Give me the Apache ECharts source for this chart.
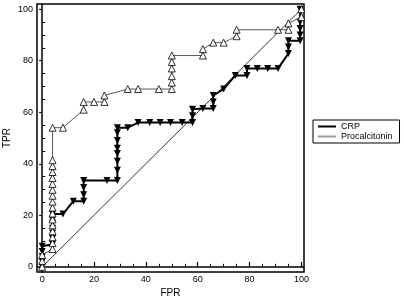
<!DOCTYPE html>
<html>
<head>
<meta charset="utf-8">
<script src="https://cdn.jsdelivr.net/npm/echarts@6/dist/echarts.min.js"></script>
<style>
  html, body { margin: 0; padding: 0; background: #fff; }
  #main { width: 404px; height: 300px; }
</style>
</head>
<body>
<div id="main"></div>
<script>
// ROC 数据
const crpFpr = [0, 0, 0, 0, 0, 4, 4, 4, 4, 4, 4, 4, 8, 12, 16, 16, 16, 16, 25, 29, 29, 29, 29, 29, 29, 29, 29, 33, 37, 41.5, 45.5, 49.5, 54, 58, 58, 58, 62, 66, 66, 66, 70, 74.5, 79, 79, 83, 87, 91, 95, 95, 95, 99.5, 99.5, 99.5, 99.5, 99.5];
const crpTpr = [0, 2, 4, 6, 8, 8.8, 11, 13, 15, 17, 18.5, 20.5, 20.5, 25.5, 25.5, 28, 30.8, 33.5, 33.5, 33.5, 37.5, 41, 44, 46, 49, 52, 54, 54, 56, 56, 56, 56, 56, 56, 58.6, 61.2, 61.4, 61.4, 64, 66.5, 69, 74.3, 74.3, 77, 77, 77, 77, 82.8, 85.3, 87.7, 87.7, 90, 92.5, 95, 100];

const procFpr = [0, 0, 0, 4, 4, 4, 4, 4, 4, 4, 4, 4, 4, 4, 4, 4, 4, 4, 4, 4, 8, 16, 16, 20, 24, 24, 33, 37, 45, 50, 50, 50, 50, 50, 50, 62, 62, 66, 70, 75, 75, 91, 95, 95, 100, 100];
const procTpr = [0, 2.3, 4.6, 6.9, 9.2, 11.5, 13.8, 16.1, 18.4, 20.7, 23, 25.3, 27.6, 29.9, 32.2, 34.5, 36.8, 39.1, 41.4, 54, 54, 61, 64, 64, 64, 66.5, 69, 69, 69, 69, 71.5, 74, 77, 79.5, 82, 82, 84.5, 87, 87, 89.5, 92, 92, 92, 94.5, 97, 100];

const refLine = [0, 100];
const majorTicks = [0, 20, 40, 60, 80, 100];
const minorTicks = [5, 10, 15, 25, 30, 35, 45, 50, 55, 65, 70, 75, 85, 90, 95];

const pairs = (xs, ys) => xs.map((x, i) => [x, ys[i]]);

const chart = echarts.init(document.getElementById('main'));

const axisFont = { fontFamily: 'Liberation Sans', fontSize: 9, color: '#000' };

const mainX = {
    type: 'value', min: -2, max: 101, gridIndex: 0, position: 'bottom',
    name: 'FPR', nameLocation: 'middle', nameGap: 16, nameMoveOverlap: false,
    nameTextStyle: { fontFamily: 'Liberation Sans', fontSize: 10, color: '#000' },
    axisLine: { show: true, lineStyle: { color: '#000', width: 1.5 } },
    axisTick: { show: true, inside: true, length: 5, customValues: majorTicks, lineStyle: { color: '#000', width: 1.2 } },
    axisLabel: { ...axisFont, margin: 3, customValues: majorTicks },
    splitLine: { show: false }
};
const minorX = {
    type: 'value', min: -2, max: 101, gridIndex: 0, position: 'bottom',
    axisLine: { show: false },
    axisTick: { show: true, inside: true, length: 3, customValues: minorTicks, lineStyle: { color: '#000', width: 1 } },
    axisLabel: { show: false },
    splitLine: { show: false }
};
const mainY = {
    type: 'value', min: -2, max: 102, gridIndex: 0, position: 'left',
    name: 'TPR', nameLocation: 'middle', nameGap: 25, nameMoveOverlap: false,
    nameTextStyle: { fontFamily: 'Liberation Sans', fontSize: 10, color: '#000' },
    axisLine: { show: true, lineStyle: { color: '#000', width: 1.5 } },
    axisTick: { show: true, inside: false, length: 3, customValues: majorTicks, lineStyle: { color: '#000', width: 1.2 } },
    axisLabel: { ...axisFont, margin: 4, customValues: majorTicks },
    splitLine: { show: false }
};
const minorY = {
    type: 'value', min: -2, max: 102, gridIndex: 0, position: 'left',
    axisLine: { show: false },
    axisTick: { show: true, inside: true, length: 3, customValues: minorTicks, lineStyle: { color: '#000', width: 1 } },
    axisLabel: { show: false },
    splitLine: { show: false }
};

const option = {
    animation: false,
    backgroundColor: '#fff',
    grid: {
        left: 37, top: 4, width: 267, height: 268,
        outerBoundsMode: 'none',
        show: true, borderColor: '#000', borderWidth: 1.5, backgroundColor: 'transparent'
    },
    legend: {
        orient: 'vertical',
        left: 313, top: 120,
        padding: [2, 7, 2, 5],
        itemGap: 1,
        itemWidth: 18, itemHeight: 2,
        borderColor: '#000', borderWidth: 1,
        textStyle: { fontFamily: 'Liberation Sans', fontSize: 9, color: '#000' },
        data: [
            { name: 'CRP', icon: 'rect', itemStyle: { color: '#000', borderWidth: 0 } },
            { name: 'Procalcitonin', icon: 'rect', itemStyle: { color: '#9a9a9a', borderWidth: 0 } }
        ]
    },
    xAxis: [mainX, minorX],
    yAxis: [mainY, minorY],
    series: [
        {
            name: 'ref', type: 'line', silent: true,
            data: pairs(refLine, refLine),
            symbol: 'none',
            lineStyle: { color: '#000', width: 0.8 },
            z: 1
        },
        {
            name: 'CRP', type: 'line',
            data: pairs(crpFpr, crpTpr),
            symbol: 'triangle', symbolRotate: 180, symbolSize: 7,
            itemStyle: { color: '#000' },
            lineStyle: { color: '#000', width: 2 },
            z: 3
        },
        {
            name: 'Procalcitonin', type: 'line',
            data: pairs(procFpr, procTpr),
            symbol: 'triangle', symbolSize: 7,
            itemStyle: { color: '#fff', borderColor: '#000', borderWidth: 0.8 },
            lineStyle: { color: '#444', width: 0.9 },
            z: 4
        }
    ]
};

chart.setOption(option);
</script>
</body>
</html>
